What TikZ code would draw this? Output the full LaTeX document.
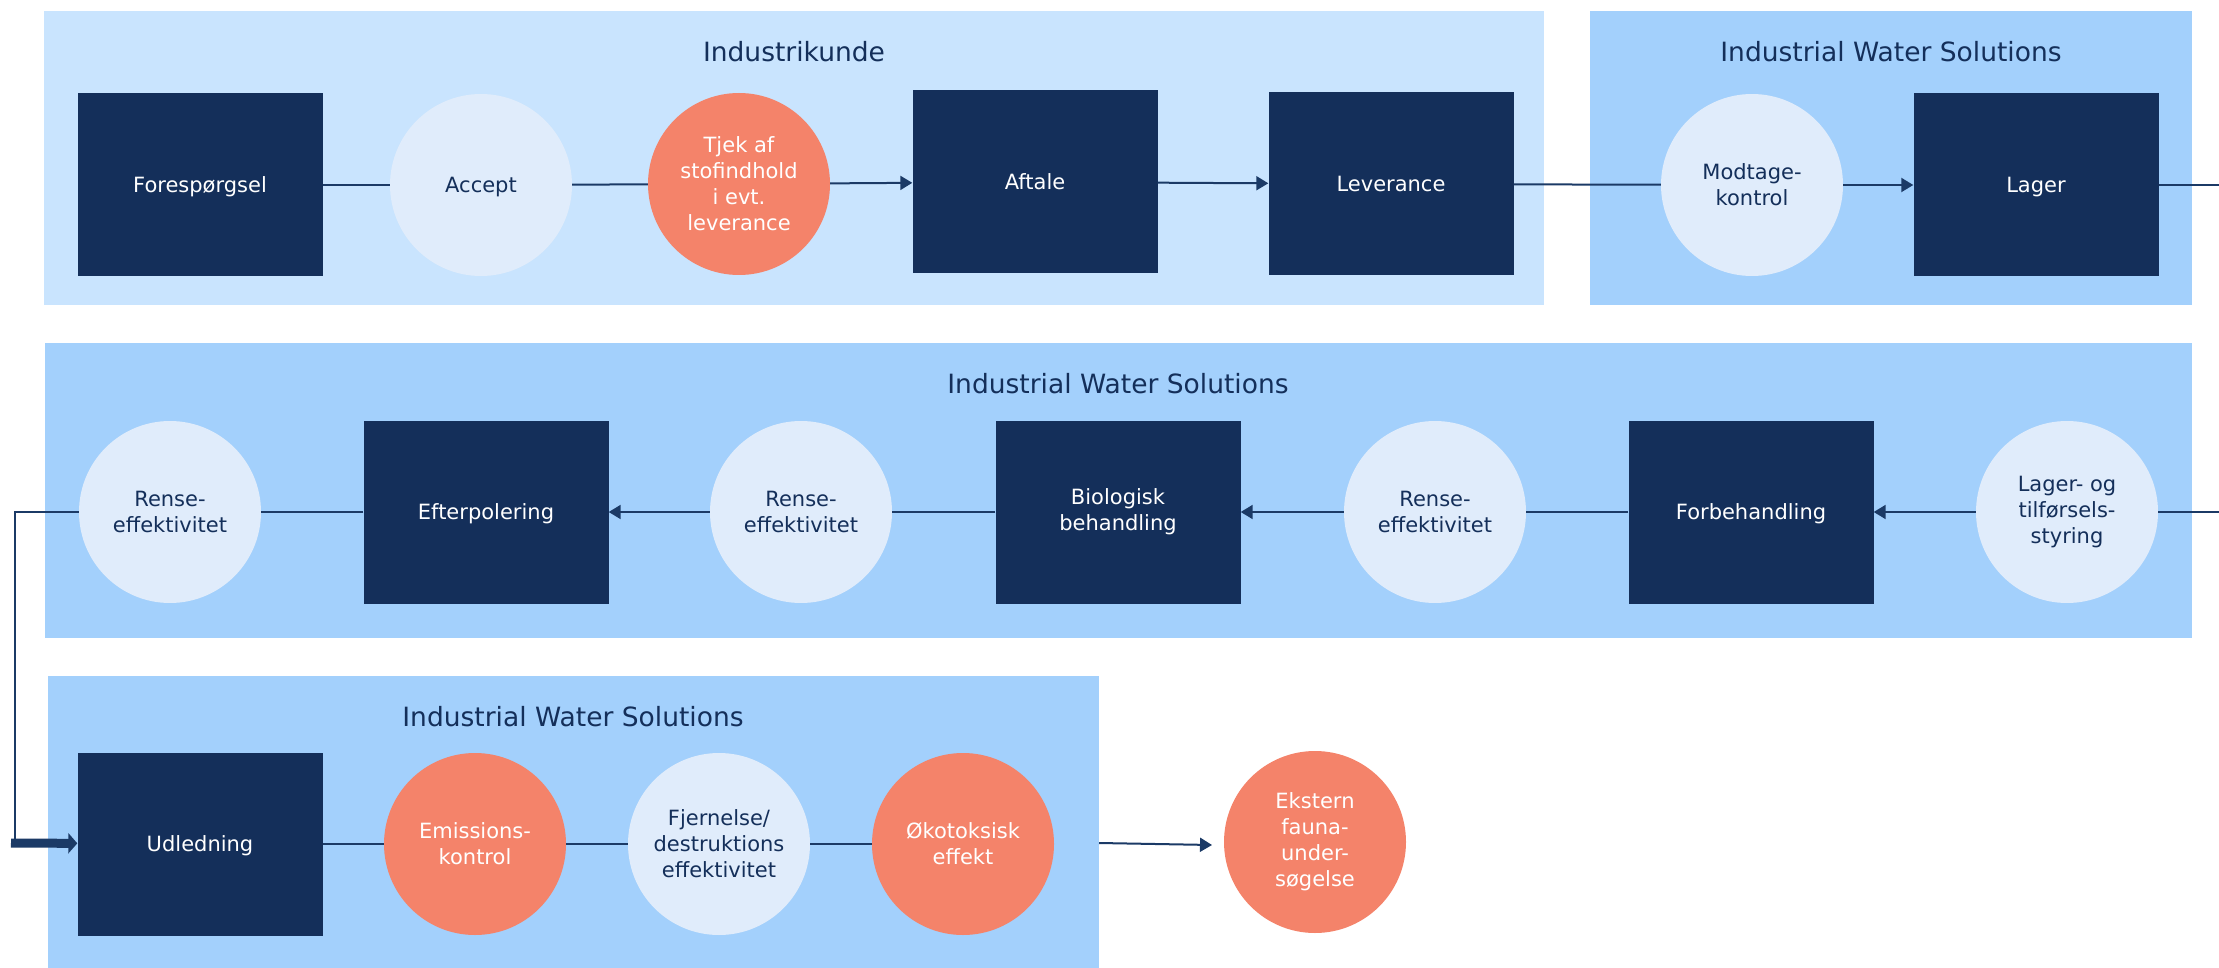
\documentclass[tikz,border=0pt]{standalone}
\usepackage{fontspec}
\setmainfont{DejaVu Sans}
\usetikzlibrary{arrows.meta}
\definecolor{panelA}{HTML}{C9E4FE}
\definecolor{panelB}{HTML}{A3D0FC}
\definecolor{navy}{HTML}{142F5A}
\definecolor{pale}{HTML}{E0ECFB}
\definecolor{coral}{HTML}{F4836A}
\definecolor{linec}{HTML}{1B3A66}
\begin{document}
\begin{tikzpicture}[x=1pt,y=-1pt,
  nfont/.style={font=\fontsize{21}{26}\selectfont},
  box/.style={rectangle, fill=navy, text=white, minimum width=245pt, minimum height=183pt, inner sep=0pt, align=center, nfont},
  pc/.style={circle, fill=pale, text=navy, minimum size=182pt, inner sep=0pt, align=center, nfont},
  oc/.style={circle, fill=coral, text=white, minimum size=182pt, inner sep=0pt, align=center, nfont},
  oneline/.style={text depth=0pt},
  paneltitle/.style={text=navy, font=\fontsize{26.5}{32}\selectfont},
  conn/.style={draw=linec, line width=2pt},
  arr/.style={conn, -{Triangle[length=12pt,width=14pt]}},
  thickarr/.style={draw=linec, line width=9pt, -{Triangle[length=9pt,width=20pt]}}
]
\useasboundingbox (0,0) rectangle (2219,968);
% panels
\fill[panelA] (44,11) rectangle (1544,305);
\fill[panelB] (1590,11) rectangle (2192,305);
\fill[panelB] (45,343) rectangle (2192,638);
\fill[panelB] (48,676) rectangle (1099,968);
% titles
\node[paneltitle] (t1) at (794,52) {Industrikunde};
\node[paneltitle] (t2) at (1891,52) {Industrial Water Solutions};
\node[paneltitle] (t3) at (1118,384) {Industrial Water Solutions};
\node[paneltitle] (t4) at (573,717) {Industrial Water Solutions};
% top row
\node[box,oneline] (f) at (200,185) {Forespørgsel};
\node[pc,oneline] (acc) at (481,185) {Accept};
\node[oc] (tj) at (739,184) {Tjek af\\stofindhold\\i evt.\\leverance};
\node[box,oneline] (af) at (1035,182) {Aftale};
\node[box,oneline] (lev) at (1391,184) {Leverance};
\node[pc] (mod) at (1752,185) {Modtage-\\kontrol};
\node[box,oneline] (lag) at (2036,185) {Lager};
\coordinate (topR) at (2219,185);
% middle row
\node[pc] (r1) at (170,512) {Rense-\\effektivitet};
\node[box,oneline] (ef) at (486,512) {Efterpolering};
\node[pc] (r2) at (801,512) {Rense-\\effektivitet};
\node[box] (bio) at (1118,512) {Biologisk\\behandling};
\node[pc] (r3) at (1435,512) {Rense-\\effektivitet};
\node[box,oneline] (forb) at (1751,512) {Forbehandling};
\node[pc] (lt) at (2067,512) {Lager- og\\tilførsels-\\styring};
\coordinate (midR) at (2219,512);
% bottom row
\node[box,oneline] (ud) at (200,844) {Udledning};
\node[oc] (em) at (475,844) {Emissions-\\kontrol};
\node[pc] (fj) at (719,844) {Fjernelse/\\destruktions\\effektivitet};
\node[oc] (ok) at (963,844) {Økotoksisk\\effekt};
\node[oc] (ek) at (1315,842) {Ekstern\\fauna-\\under-\\søgelse};
\coordinate (bs) at (1099,843);
\coordinate (be) at (1212,845);
\coordinate (cA) at (15,512);
\coordinate (cB) at (15,843);
\coordinate (ts) at (11,843);
% connectors top
\draw[conn] (f) -- (acc);
\draw[conn] (acc) -- (tj);
\draw[arr] (tj) -- (af);
\draw[arr] (af) -- (lev);
\draw[conn] (lev) -- (mod);
\draw[arr] (mod) -- (lag);
\draw[conn] (lag) -- (topR);
% connectors middle
\draw[conn] (midR) -- (lt);
\draw[arr] (lt) -- (forb);
\draw[conn] (forb) -- (r3);
\draw[arr] (r3) -- (bio);
\draw[conn] (bio) -- (r2);
\draw[arr] (r2) -- (ef);
\draw[conn] (ef) -- (r1);
\draw[conn] (r1) -- (cA) -- (cB);
\draw[thickarr] (ts) -- (ud);
% connectors bottom
\draw[conn] (ud) -- (em);
\draw[conn] (em) -- (fj);
\draw[conn] (fj) -- (ok);
\draw[arr] (bs) -- (be);
\end{tikzpicture}
\end{document}
